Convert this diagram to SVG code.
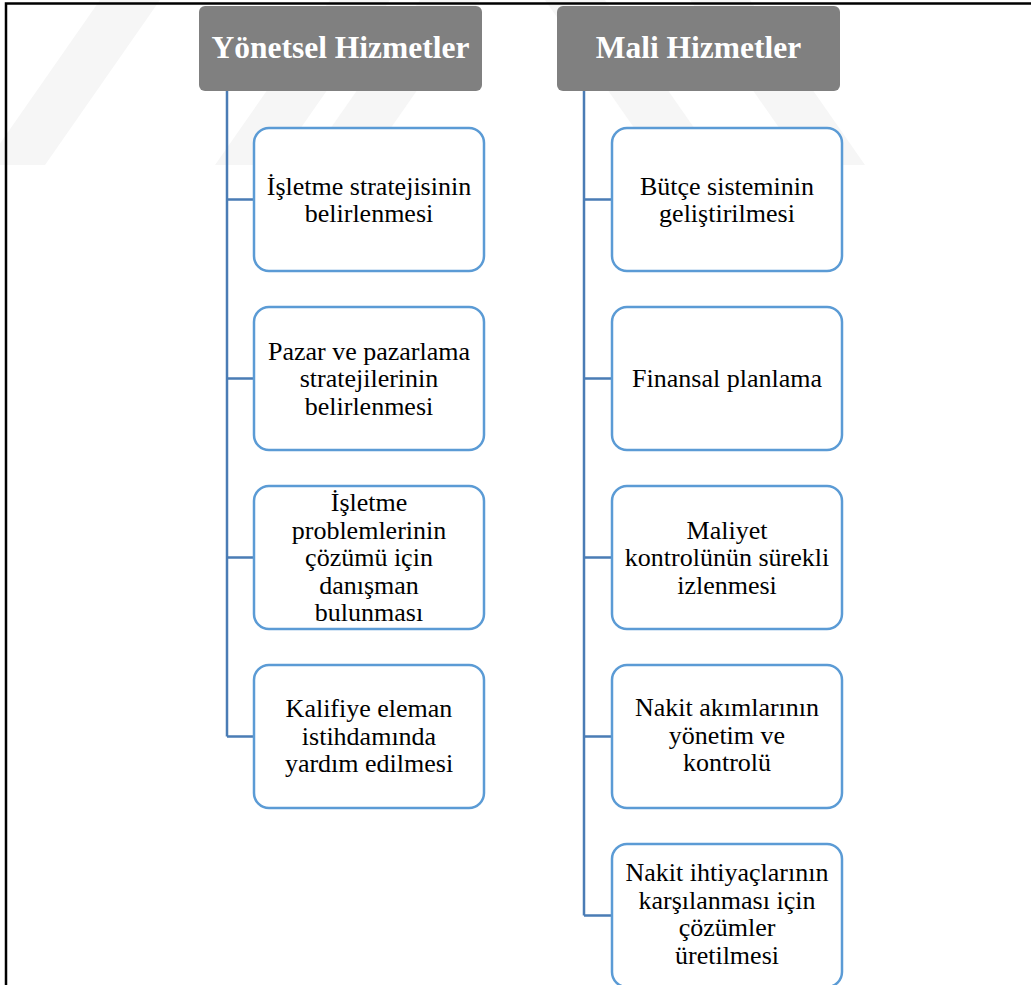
<svg xmlns="http://www.w3.org/2000/svg" width="1031" height="985" viewBox="0 0 1031 985">
<defs>
<style>
.wm{fill:#f6f6f6}
.hdr rect{fill:#808080;stroke:none}
.hdr text{font-family:"Liberation Serif","Times New Roman",serif;font-weight:bold;font-size:31.5px;fill:#ffffff;text-anchor:middle}
.box rect{fill:#ffffff;stroke:#5b9bd5;stroke-width:2.5}
.box text{font-family:"Liberation Serif","Times New Roman",serif;font-size:26px;fill:#000000;text-anchor:middle}
.conn{fill:none;stroke:#4a7cb5;stroke-width:2.5}
.frame{fill:none;stroke:#000000;stroke-width:2.5}
</style>
</defs>
<rect x="0" y="0" width="1031" height="985" fill="#ffffff"/>
<g id="watermark">
<polygon class="wm" points="100,0 160,0 45,165 -15,165"/>
<polygon class="wm" points="215,165 275,165 390,0 330,0"/>
<polygon class="wm" points="305,165 365,165 480,0 420,0"/>
<polygon class="wm" points="545,0 605,0 720,165 660,165"/>
<polygon class="wm" points="690,0 750,0 865,165 805,165"/>
</g>
<path class="frame" d="M6,985 V3.5 H1031"/>
<g id="connectors">
<path class="conn" d="M227,91 V736.5 M227,199.5 H254 M227,378.5 H254 M227,557.5 H254 M227,736.5 H254"/>
<path class="conn" d="M584,91 V915.5 M584,199.5 H612 M584,378.5 H612 M584,557.5 H612 M584,736.5 H612 M584,915.5 H612"/>
</g>
<g id="hdr-yonetsel" class="hdr">
<rect x="199" y="6" width="283" height="85" rx="6"/>
<text x="340.5" y="58">Yönetsel Hizmetler</text>
</g>
<g id="hdr-mali" class="hdr">
<rect x="557" y="6" width="283" height="85" rx="6"/>
<text x="698.5" y="58">Mali Hizmetler</text>
</g>
<g id="y1" class="box">
<rect x="254" y="128" width="230" height="143" rx="15"/>
<text x="369" y="194.5">İşletme stratejisinin</text>
<text x="369" y="222">belirlenmesi</text>
</g>
<g id="y2" class="box">
<rect x="254" y="307" width="230" height="143" rx="15"/>
<text x="369" y="359.5">Pazar ve pazarlama</text>
<text x="369" y="387">stratejilerinin</text>
<text x="369" y="414.5">belirlenmesi</text>
</g>
<g id="y3" class="box">
<rect x="254" y="486" width="230" height="143" rx="15"/>
<text x="369" y="511">İşletme</text>
<text x="369" y="538.5">problemlerinin</text>
<text x="369" y="566">çözümü için</text>
<text x="369" y="593.5">danışman</text>
<text x="369" y="621">bulunması</text>
</g>
<g id="y4" class="box">
<rect x="254" y="665" width="230" height="143" rx="15"/>
<text x="369" y="717">Kalifiye eleman</text>
<text x="369" y="744.5">istihdamında</text>
<text x="369" y="772">yardım edilmesi</text>
</g>
<g id="m1" class="box">
<rect x="612" y="128" width="230" height="143" rx="15"/>
<text x="727" y="194.5">Bütçe sisteminin</text>
<text x="727" y="222">geliştirilmesi</text>
</g>
<g id="m2" class="box">
<rect x="612" y="307" width="230" height="143" rx="15"/>
<text x="727" y="386.5">Finansal planlama</text>
</g>
<g id="m3" class="box">
<rect x="612" y="486" width="230" height="143" rx="15"/>
<text x="727" y="538.5">Maliyet</text>
<text x="727" y="566">kontrolünün sürekli</text>
<text x="727" y="593.5">izlenmesi</text>
</g>
<g id="m4" class="box">
<rect x="612" y="665" width="230" height="143" rx="15"/>
<text x="727" y="716">Nakit akımlarının</text>
<text x="727" y="743.5">yönetim ve</text>
<text x="727" y="771">kontrolü</text>
</g>
<g id="m5" class="box">
<rect x="612" y="844" width="230" height="143" rx="15"/>
<text x="727" y="881">Nakit ihtiyaçlarının</text>
<text x="727" y="908.5">karşılanması için</text>
<text x="727" y="936">çözümler</text>
<text x="727" y="963.5">üretilmesi</text>
</g>
</svg>
